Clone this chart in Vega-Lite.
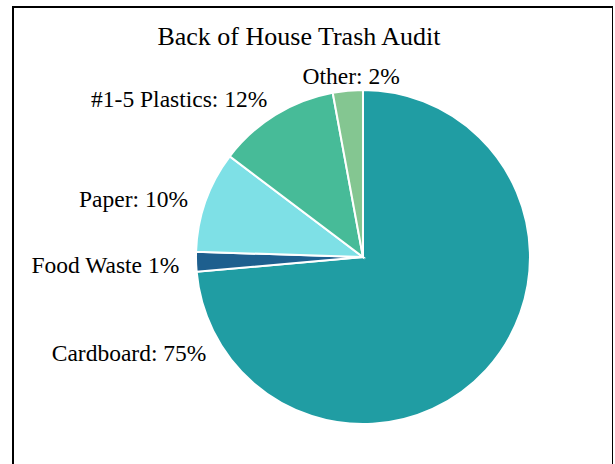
{
  "$schema": "https://vega.github.io/schema/vega-lite/v6.json",
  "autosize": {"type": "none"},
  "width": 600,
  "height": 470,
  "padding": {"left": 13, "top": 7, "right": 0, "bottom": 0},
  "background": "white",
  "view": {"stroke": "black", "strokeWidth": 2, "fill": "white"},
  "config": {
    "view": {"stroke": "black", "strokeWidth": 2},
    "font": "Liberation Serif"
  },
  "title": {
    "text": "Back of House Trash Audit",
    "font": "Liberation Serif",
    "fontSize": 26,
    "fontWeight": "normal",
    "color": "black",
    "anchor": "middle",
    "frame": "group",
    "baseline": "alphabetic",
    "offset": -39,
    "dy": 25,
    "dx": -14
  },
  "data": {
    "values": [
      {"rank": 1, "slice": "Cardboard", "value": 73.6, "label": "Cardboard: 75%", "labelAt": 66.2},
      {"rank": 2, "slice": "Food Waste", "value": 1.9, "label": "Food Waste 1%", "labelAt": 74.2},
      {"rank": 3, "slice": "Paper", "value": 9.8, "label": "Paper: 10%", "labelAt": 80.0},
      {"rank": 4, "slice": "#1-5 Plastics", "value": 11.8, "label": "#1-5 Plastics: 12%", "labelAt": 91.3},
      {"rank": 5, "slice": "Other", "value": 2.9, "label": "Other: 2%", "labelAt": 3.2}
    ]
  },
  "layer": [
    {
      "mark": {
        "type": "arc",
        "outerRadius": 167,
        "stroke": "white",
        "strokeWidth": 2,
        "x": {"expr": "width * 0.5833"},
        "y": {"expr": "height * 0.532"}
      },
      "encoding": {
        "theta": {"field": "value", "type": "quantitative", "stack": true, "scale": {"domain": [0, 100]}},
        "order": {"field": "rank", "type": "quantitative", "sort": "ascending"},
        "color": {
          "field": "slice",
          "type": "nominal",
          "scale": {
            "domain": ["Cardboard", "Food Waste", "Paper", "#1-5 Plastics", "Other"],
            "range": ["#209da3", "#1e5f8e", "#7ee0e6", "#47bb98", "#84c691"]
          },
          "legend": null
        }
      }
    },
    {
      "mark": {
        "type": "text",
        "radius": 184,
        "align": "right",
        "baseline": "middle",
        "font": "Liberation Serif",
        "fontSize": 23.5,
        "color": "black",
        "x": {"expr": "width * 0.5833"},
        "y": {"expr": "height * 0.532"}
      },
      "encoding": {
        "theta": {"field": "labelAt", "type": "quantitative", "stack": null, "scale": {"domain": [0, 100]}},
        "text": {"field": "label", "type": "nominal"}
      }
    }
  ]
}
